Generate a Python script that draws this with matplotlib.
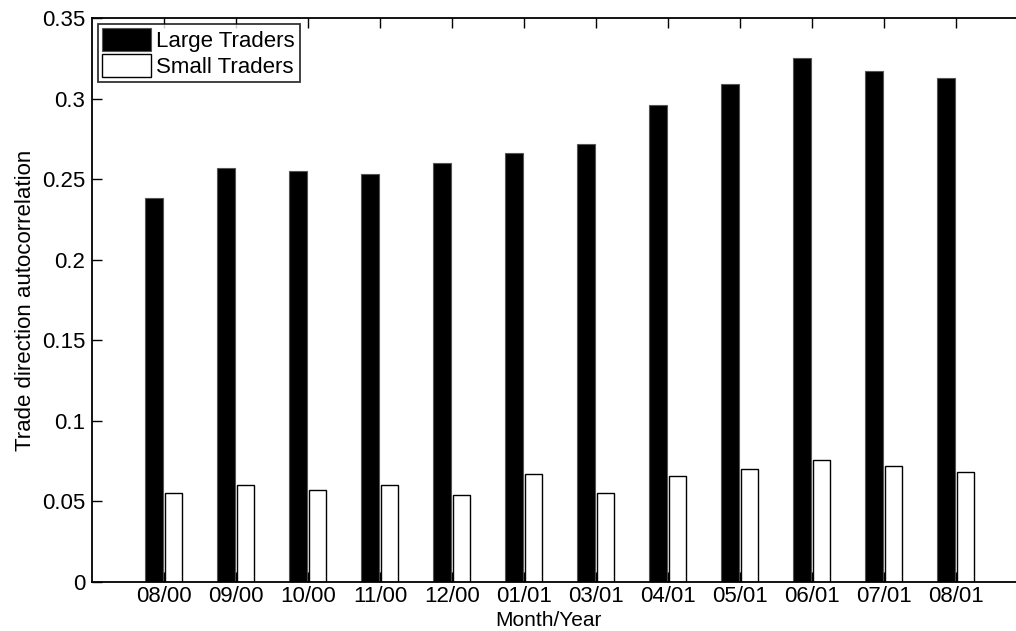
import matplotlib
matplotlib.use("Agg")
import matplotlib.pyplot as plt
import numpy as np

plt.rcParams['font.family'] = ['Liberation Sans', 'DejaVu Sans']

months = ['08/00', '09/00', '10/00', '11/00', '12/00', '01/01',
          '03/01', '04/01', '05/01', '06/01', '07/01', '08/01']
large = [0.238, 0.257, 0.255, 0.253, 0.260, 0.266,
         0.272, 0.296, 0.309, 0.325, 0.317, 0.313]
small = [0.055, 0.060, 0.057, 0.060, 0.054, 0.067,
         0.055, 0.066, 0.070, 0.076, 0.072, 0.068]

fig = plt.figure(figsize=(10.16, 6.31), dpi=100)
# axes runs a little past the right edge, as in the cropped original
ax = fig.add_axes([92/1016, 49/631, 936/1016, 564/631])

x = np.arange(1, len(months) + 1)
w = 0.24
ax.bar(x - 0.14, large, w, color='black', edgecolor='#555555', linewidth=0.8,
       label='Large Traders')
ax.bar(x + 0.13, small, w, color='white', edgecolor='black', linewidth=1.0,
       label='Small Traders')

ax.set_xlim(0, 13)
ax.set_ylim(0, 0.35)
ax.set_xticks(x)
ax.set_xticklabels(months)
ax.set_yticks(np.arange(0, 0.351, 0.05))
ax.set_yticklabels(['0', '0.05', '0.1', '0.15', '0.2', '0.25', '0.3', '0.35'])
ax.tick_params(direction='in', length=7, width=1, labelsize=16,
               top=True, right=True, pad=5)
ax.tick_params(axis='x', pad=3)
for s in ax.spines.values():
    s.set_linewidth(1.3)

ax.set_xlabel('Month/Year', fontsize=15, labelpad=0)
ax.xaxis.set_label_coords(0.488, -0.051)
ax.set_ylabel('Trade direction autocorrelation', fontsize=16, labelpad=4)

leg = ax.legend(loc='upper left', fontsize=16, frameon=True, fancybox=False,
                edgecolor='black', borderpad=0.2, handlelength=2.2,
                handleheight=1.2, handletextpad=0.25, labelspacing=0.1,
                borderaxespad=0.25)
leg.get_frame().set_linewidth(1.3)

fig.savefig('out.png', dpi=100)
